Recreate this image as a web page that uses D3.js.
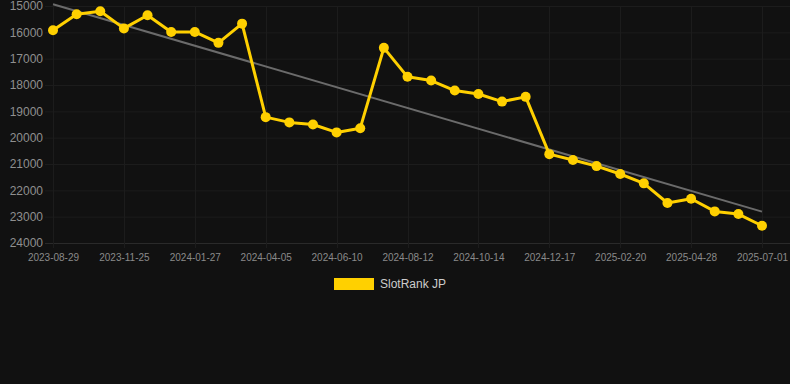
<!DOCTYPE html>
<html>
<head>
<meta charset="utf-8">
<script src="https://cdn.jsdelivr.net/npm/d3@7"></script>
<style>
  html, body { margin: 0; padding: 0; background: #111111; }
  svg { display: block; }
  text { font-family: "Liberation Sans", Arial, sans-serif; }
</style>
</head>
<body>
<div id="chart"></div>
<script>
// Chart size
var svgWidth = 790;
var svgHeight = 384;

// Data
var dates = ["2023-08-29", "2023-09-28", "2023-10-27", "2023-11-25", "2023-12-16", "2024-01-06",
    "2024-01-27", "2024-02-18", "2024-03-12", "2024-04-05", "2024-04-26", "2024-05-18",
    "2024-06-10", "2024-06-30", "2024-07-21", "2024-08-12", "2024-09-02", "2024-09-23",
    "2024-10-14", "2024-11-05", "2024-11-26", "2024-12-17", "2025-01-08", "2025-01-29",
    "2025-02-20", "2025-03-14", "2025-04-06", "2025-04-28", "2025-05-20", "2025-06-10",
    "2025-07-01"];
var ranks = [15920, 15310, 15200, 15850, 15350, 15985, 15985, 16400, 15670, 19220, 19420,
    19500, 19800, 19640, 16590, 17690, 17830, 18210, 18340, 18630, 18450, 20625, 20850,
    21080, 21380, 21735, 22480, 22320, 22800, 22900, 23345];
var trendStart = 14935;
var trendEnd = 22810;
var yTicks = [15000, 16000, 17000, 18000, 19000, 20000, 21000, 22000, 23000, 24000];
var seriesName = "SlotRank JP";

var margin = { top: 6, right: 28, bottom: 141, left: 53 };
var width = svgWidth - margin.left - margin.right;
var height = 243 - margin.top;

var svg = d3.select("#chart")
    .append("svg")
    .attr("width", svgWidth)
    .attr("height", svgHeight);

var chartGroup = svg.append("g")
    .attr("transform", `translate(${margin.left}, ${margin.top})`);

// Scales
var xScale = d3.scalePoint()
    .domain(dates)
    .range([0, width]);

var yScale = d3.scaleLinear()
    .domain([15000, 24000])
    .range([0, height]);

// Horizontal grid
chartGroup.append("g")
    .selectAll("line")
    .data(yTicks)
    .enter()
    .append("line")
    .attr("x1", -8)
    .attr("x2", svgWidth - margin.left)
    .attr("y1", d => yScale(d) + 0.5)
    .attr("y2", d => yScale(d) + 0.5)
    .attr("stroke", d => d === 24000 ? "#2a2a2a" : "#1c1c1c")
    .attr("stroke-width", 1);

// Vertical grid at labelled dates
var labelDates = dates.filter((d, i) => i % 3 === 0);
chartGroup.append("g")
    .selectAll("line")
    .data(labelDates)
    .enter()
    .append("line")
    .attr("x1", d => Math.round(xScale(d)) + 0.5)
    .attr("x2", d => Math.round(xScale(d)) + 0.5)
    .attr("y1", 0)
    .attr("y2", height + 5)
    .attr("stroke", "#1c1c1c")
    .attr("stroke-width", 1);

// Y axis labels
var leftAxis = d3.axisLeft(yScale).tickValues(yTicks).tickFormat(d3.format("d")).tickSize(0).tickPadding(10);
var yAxis = chartGroup.append("g").call(leftAxis);
yAxis.select(".domain").remove();
yAxis.selectAll("text")
    .attr("fill", "#8f8f8f")
    .attr("font-size", 12)
    .attr("font-family", "Liberation Sans, Arial, sans-serif");

// X axis labels
var bottomAxis = d3.axisBottom(xScale).tickValues(labelDates).tickSize(0).tickPadding(11);
var xAxis = chartGroup.append("g")
    .attr("transform", `translate(0, ${height})`)
    .call(bottomAxis);
xAxis.select(".domain").remove();
xAxis.selectAll("text")
    .attr("fill", "#8a8a8a")
    .attr("font-size", 10)
    .attr("font-family", "Liberation Sans, Arial, sans-serif");

// Trend line
chartGroup.append("line")
    .attr("x1", xScale(dates[0]))
    .attr("x2", xScale(dates[dates.length - 1]))
    .attr("y1", yScale(trendStart))
    .attr("y2", yScale(trendEnd))
    .attr("stroke", "#6b6b6b")
    .attr("stroke-width", 2);

// Series line
var line = d3.line()
    .x((d, i) => xScale(dates[i]))
    .y(d => yScale(d));

chartGroup.append("path")
    .datum(ranks)
    .attr("d", line)
    .attr("fill", "none")
    .attr("stroke", "#ffd000")
    .attr("stroke-width", 3)
    .attr("stroke-linejoin", "round");

chartGroup.selectAll("circle")
    .data(ranks)
    .enter()
    .append("circle")
    .attr("cx", (d, i) => xScale(dates[i]))
    .attr("cy", d => yScale(d))
    .attr("r", 5)
    .attr("fill", "#ffd000");

// Legend
var legend = svg.append("g");
legend.append("rect")
    .attr("x", 334)
    .attr("y", 278)
    .attr("width", 40)
    .attr("height", 12)
    .attr("fill", "#ffd000");
legend.append("text")
    .attr("x", 380)
    .attr("y", 288)
    .attr("fill", "#cccccc")
    .attr("font-size", 12)
    .text(seriesName);
</script>
</body>
</html>
